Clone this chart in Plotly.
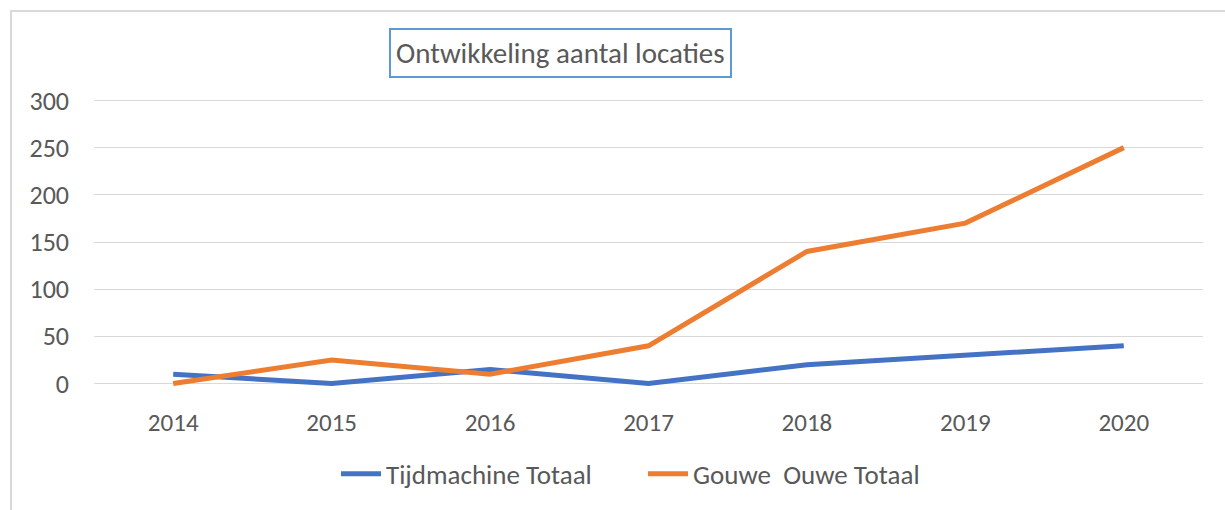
import plotly.graph_objects as go

years = ["2014", "2015", "2016", "2017", "2018", "2019", "2020"]
tijdmachine = [10, 0, 15, 0, 20, 30, 40]
gouwe_ouwe = [0, 25, 10, 40, 140, 170, 250]
series_names = ["Tijdmachine Totaal", "Gouwe\u00a0 Ouwe Totaal"]
title_text = "Ontwikkeling aantal locaties"

FONT = "Carlito, Lato, sans-serif"
W, H = 1225, 510
L, R = 94, 1203
TOP, BOT = 90.5, 394.5
pw, ph = R - L, BOT - TOP

def px_x(p):
    return (p - L) / pw

def px_y(p):
    return (BOT - p) / ph

fig = go.Figure()
fig.add_trace(go.Scatter(x=years, y=tijdmachine, mode="lines", name=series_names[0],
                         line=dict(color="#4472C4", width=5)))
fig.add_trace(go.Scatter(x=years, y=gouwe_ouwe, mode="lines", name=series_names[1],
                         line=dict(color="#ED7D31", width=5)))

fig.update_layout(
    width=W, height=H,
    margin=dict(l=L, r=W - R, t=TOP, b=H - BOT, pad=0),
    paper_bgcolor="white", plot_bgcolor="white",
    font=dict(family=FONT, color="#595959"),
    showlegend=True,
    legend=dict(orientation="h", x=px_x(643), xanchor="center", y=px_y(475), yanchor="middle",
                font=dict(size=27, color="#595959"), itemwidth=40,
                entrywidth=252, traceorder="normal"),
    xaxis=dict(type="category", range=[-0.5, 6.5], showgrid=False, showline=False,
               zeroline=False, ticks="", tickfont=dict(size=25, color="#595959"),
               ticklabelstandoff=12),
    yaxis=dict(range=[-10, 310], tickvals=[0, 50, 100, 150, 200, 250, 300],
               showgrid=True, gridcolor="#D9D9D9", gridwidth=1, zeroline=False,
               showline=False, ticks="", tickfont=dict(size=26, color="#595959"),
               ticklabelstandoff=24),
    annotations=[dict(text=title_text, xref="paper", yref="paper",
                      x=px_x(560), y=px_y(52), xanchor="center", yanchor="middle",
                      showarrow=False,
                      font=dict(size=29, color="#595959", family=FONT),
                      bordercolor="#5B9BD5", borderwidth=2, borderpad=5, bgcolor="white")],
    shapes=[dict(type="rect", xref="paper", yref="paper",
                 x0=px_x(11), x1=px_x(1240), y0=px_y(530), y1=px_y(10),
                 line=dict(color="#D9D9D9", width=2), layer="below")],
)

fig.write_html("out.html", config={"displayModeBar": False},
               post_script="document.body.style.margin='0';")
